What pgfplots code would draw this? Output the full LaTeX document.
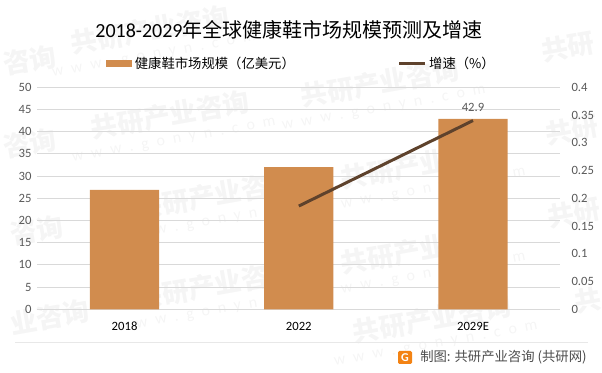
\documentclass[border=0pt]{standalone}
\usepackage{pgfplots}
\pgfplotsset{compat=1.18}
\usepackage{fontspec}
\setmainfont{Carlito}
\newfontfamily\cjk{Noto Sans CJK SC}
\definecolor{barc}{HTML}{D18C4E}
\definecolor{linec}{HTML}{5E422C}
\definecolor{gridc}{HTML}{D9D9D9}
\definecolor{tickc}{HTML}{595959}
\definecolor{wm}{HTML}{F5F5F5}
\begin{document}
\begin{tikzpicture}
\begin{scope}[x=0.75pt,y=0.75pt]
\path[use as bounding box] (0,0) rectangle (602,373);
\foreach \px/\py in {150/343,170/258,215/178,215/88,380/290,420/208,420/123,432/54}{
  \node[rotate=10,text=wm,font=\cjk\bfseries\fontsize{20}{20}\selectfont] at (\px,\py) {共研产业咨询};
  \node[rotate=10,text=wm,font=\fontsize{12}{12}\selectfont] at (\px+4,\py-26) {w\,\,\,w\,\,\,w\,\,\,.\,\,\,g\,\,\,o\,\,\,n\,\,\,y\,\,\,n\,\,\,.\,\,\,c\,\,\,o\,\,\,m};
}
\foreach \px/\py/\t in {30/313/咨询,30/230/咨询,37/143/咨询,50/56/业咨询,568/326/共研,572/243/共研,574/160/共研,588/73/共}{
  \node[rotate=10,text=wm,font=\cjk\bfseries\fontsize{20}{20}\selectfont] at (\px,\py) {\t};
}
\end{scope}
\begin{axis}[
  at={(28.1pt,47.8pt)},anchor=south west,
  scale only axis,width=392pt,height=166.5pt,
  xmin=-0.5,xmax=2.5,ymin=0,ymax=50,
  xtick={0,1,2},xticklabels={2018,2022,2029E},
  ytick={0,5,...,50},
  axis line style={draw=none},
  major tick length=0pt,
  ymajorgrids,grid style={gridc,line width=0.75pt},
  tick label style={font=\fontsize{9.5}{9.5}\selectfont},
  yticklabel style={text=tickc,xshift=-1pt},
  xticklabel style={text=black,yshift=-6pt},
  /pgf/number format/assume math mode=true,
  clip=false,
  legend columns=2,
  legend style={at={(axis description cs:0.131,1.105)},anchor=west,draw=none,fill=none,font=\cjk\fontsize{10}{10}\selectfont,
    /tikz/every even column/.style={column sep=75pt},inner sep=0pt,nodes={inner xsep=2pt}},
]
\addplot[ybar,bar width=52pt,fill=barc,draw=none,
  legend image code/.code={\fill[barc] (0,-2.6pt) rectangle (19.5pt,2.6pt);}] coordinates {(0,26.9) (1,32) (2,42.9)};
\addlegendentry{健康鞋市场规模（亿美元）}
\addlegendimage{legend image code/.code={\draw[linec,line width=2.25pt] (0,0) -- (19.5pt,0);}}
\addlegendentry{增速（\%）}
\addplot[draw=none,mark=none,nodes near coords,point meta=y,
  nodes near coords style={font=\fontsize{9.5}{9.5}\selectfont,text=tickc,anchor=south,yshift=2pt,/pgf/number format/fixed,/pgf/number format/precision=1,/pgf/number format/assume math mode=true},forget plot] coordinates {(2,42.9)};
\end{axis}
\begin{axis}[
  at={(28.1pt,47.8pt)},anchor=south west,
  scale only axis,width=392pt,height=166.5pt,
  xmin=-0.5,xmax=2.5,ymin=0,ymax=0.4,
  xtick=\empty,
  ytick={0,0.05,0.1,0.15,0.2,0.25,0.3,0.35,0.4},
  yticklabels={0,0.05,0.1,0.15,0.2,0.25,0.3,0.35,0.4},
  axis y line*=right,axis x line=none,
  axis line style={draw=none},
  major tick length=0pt,
  tick label style={font=\fontsize{9.5}{9.5}\selectfont},
  yticklabel style={text=tickc,xshift=5pt},
  /pgf/number format/assume math mode=true,
]
\addplot[linec,line width=2.25pt,mark=none] coordinates {(1,0.186) (2,0.34)};
\end{axis}
\begin{scope}[x=0.75pt,y=0.75pt]
\node[font=\cjk\fontsize{15}{15}\selectfont,text=black] at (289,343) {{\fontspec{Carlito}2018-2029}年全球健康鞋市场规模预测及增速};
\draw[gridc!60,line width=0.6pt] (15,31) -- (588,31);
\fill[rounded corners=1pt,fill=orange!75!barc] (398,9) rectangle (412,22);
\node[text=white,font=\bfseries\fontsize{9}{9}\selectfont] at (405,15.5) {G};
\node[anchor=west,inner sep=0pt,font=\cjk\fontsize{10}{10}\selectfont,text=black!70] at (420,16) {制图: 共研产业咨询 (共研网)};
\end{scope}
\end{tikzpicture}
\end{document}
